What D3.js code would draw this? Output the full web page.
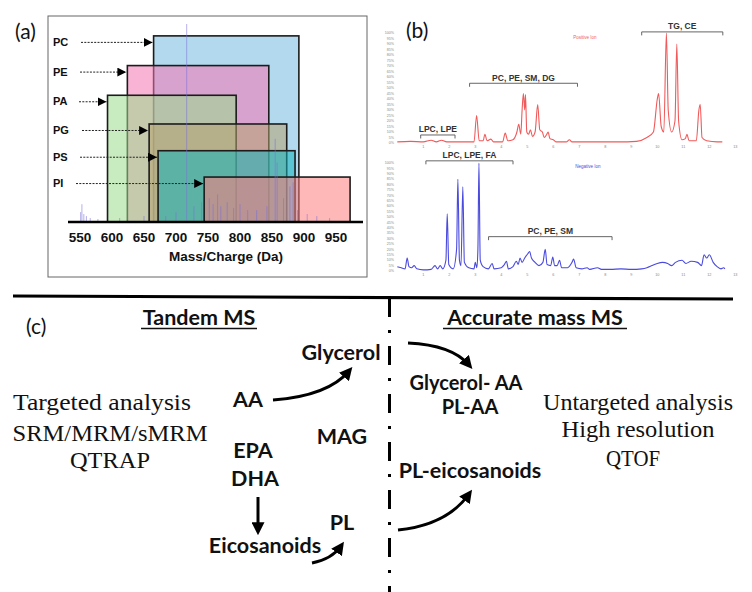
<!DOCTYPE html>
<html><head><meta charset="utf-8">
<script src="https://cdn.jsdelivr.net/npm/d3@7"></script>
<style>body{margin:0;background:#fff}svg{display:block}</style>
</head><body>
<svg id="fig" width="752" height="592"></svg>
<script>
// ---------- Panel (a) data ----------
const lipidClasses = ["PC","PE","PA","PG","PS","PI"];
const classMzStart = [665,624,593,658,672,744];
const classMzEnd   = [892,845,794,873,886,972];
const classLevel   = [94,79,64,49.5,36,22.7];
const classColors  = ["#75bae2","#f475b3","#9bdc8c","#b6a270","#14b4be","#ff7e7e"];
const massTicks = [550,600,650,700,750,800,850,900,950];
const spectrumMz  = [551,553,556,560,566,578,612,650,684,700,716.7,728,740,752,758,765,770,780,790,800,812,826,842,855,858,868,878,883,890,905,920,940];
const spectrumInt = [5,9,4,3,2,1.5,2,3,3,5,100,8,10,12,9,14,8,10,7,9,6,6,8,42,30,12,18,20,6,4,3,2];

// ---------- Panel (b) data ----------
const timeTicks = [1,2,3,4,5,6,7,8,9,10,11,12,13];
const pctTicks = [0,5,10,15,20,25,30,35,40,45,50,55,60,65,70,75,80,85,90,95,100];
const positiveTime = [0,0.5,1,1.3,1.5,1.7,1.9,2.5,2.95,3.05,3.15,3.3,3.37,3.45,3.6,3.7,4.05,4.15,4.25,4.45,4.6,4.67,4.75,4.8,4.85,4.9,4.93,4.98,5.05,5.12,5.2,5.3,5.4,5.48,5.58,5.65,5.75,5.8,5.87,6.0,6.1,6.5,6.62,6.72,7.5,8.5,9.2,9.6,9.85,10.0,10.05,10.15,10.25,10.35,10.42,10.55,10.68,10.75,10.82,10.95,11.08,11.14,11.22,11.5,11.6,11.65,11.72,11.9,12.3,12.5];
const positiveInt  = [1,1.5,1,2.5,1,2.5,1,1,1,25,2,2,8,2,3.5,1,1,9,2,3,10,17,8,30,45,30,44,10,8,12,6,10,35,12,10,5,8,10,4,3,1,1,3,1,1,1,1.5,5,10,40,45,15,10,100,30,10,20,90,20,3,4,8,2,2,30,35,5,2,1,1];
const negativeTime = [0,0.15,0.3,0.38,0.45,0.55,0.65,0.75,1.0,1.3,1.45,1.55,1.65,1.75,1.87,1.92,1.98,2.15,2.28,2.33,2.39,2.45,2.52,2.58,2.75,2.95,3.0,3.06,3.1,3.14,3.19,3.3,3.5,3.65,3.72,4.0,4.12,4.2,4.27,4.45,4.58,4.65,4.72,4.8,4.9,5.02,5.09,5.16,5.3,5.45,5.6,5.69,5.76,5.9,5.98,6.05,6.15,6.24,6.32,6.55,6.72,6.78,6.88,7.1,7.3,7.4,7.7,7.85,8.2,8.6,9.0,9.4,9.6,9.8,10.0,10.2,10.4,10.55,10.7,10.95,11.1,11.3,11.55,11.7,11.8,11.9,12.0,12.15,12.3,12.45,12.55,12.6];
const negativeInt  = [4,3,2,12,4,3,5,2,1,1.5,5,2,5,2,10,53,6,2,20,85,10,5,78,8,3,2,8,3,20,100,10,4,2,7,2,3,6,9,2,4,9,6,12,8,12,16,18,12,8,5,8,20,6,5,13,5,5,10,3,3,8,11,3,2,3,1.5,3,1.5,1.5,2,1.5,2,3,5,7,8,7,5,8,10,7,9,8,5,15,12,15,8,4,2,3,2];
const posBrackets = [["TG, CE",9.4,12.52,101],["PC, PE, SM, DG",2.78,6.93,54.3],["LPC, LPE",0.9,2.22,7.3]];
const negBrackets = [["LPC, LPE, FA",1.1,4.45,102],["PC, PE, SM",3.51,8.26,31.8]];

const svg = d3.select("#fig");
svg.append("rect").attr("width",752).attr("height",592).attr("fill","#fff");

// ================= Panel (a) =================
const xA = d3.scaleLinear().domain([550,950]).range([80,336]);
const yA = d3.scaleLinear().domain([0,100]).range([222,24]);
const gA = svg.append("g");
gA.append("rect").attr("x",48).attr("y",16).attr("width",319).attr("height",261)
  .attr("fill","none").attr("stroke","#666").attr("stroke-width",1);

lipidClasses.forEach((c,i)=>{
  gA.append("rect")
    .attr("x",xA(classMzStart[i])).attr("y",yA(classLevel[i]))
    .attr("width",xA(classMzEnd[i])-xA(classMzStart[i]))
    .attr("height",yA(0)-yA(classLevel[i]))
    .attr("fill",classColors[i]).attr("fill-opacity",0.55)
    .attr("stroke","#1c1c1c").attr("stroke-width",1.6);
});
spectrumMz.forEach((m,i)=>{
  gA.append("line").attr("x1",xA(m)).attr("x2",xA(m))
    .attr("y1",yA(0)).attr("y2",yA(spectrumInt[i]))
    .attr("stroke","#7a70d8").attr("stroke-opacity",0.55).attr("stroke-width",1);
});
gA.append("line").attr("x1",68).attr("x2",363).attr("y1",yA(0)).attr("y2",yA(0))
  .attr("stroke","#000").attr("stroke-width",2.5);

const defs = svg.append("defs");
defs.append("marker").attr("id","tri").attr("viewBox","0 0 10 10").attr("refX",10).attr("refY",5)
  .attr("markerWidth",9).attr("markerHeight",9).attr("markerUnits","userSpaceOnUse").attr("orient","auto")
  .append("path").attr("d","M0,0L10,5L0,10Z").attr("fill","#000");
defs.append("marker").attr("id","head").attr("viewBox","0 0 10 10").attr("refX",6).attr("refY",5)
  .attr("markerWidth",13).attr("markerHeight",13).attr("markerUnits","userSpaceOnUse").attr("orient","auto")
  .append("path").attr("d","M0,0L10,5L0,10Z").attr("fill","#000");

const arrowStart = [81,80,79,82,80,76];
lipidClasses.forEach((c,i)=>{
  const top = yA(classLevel[i]);
  gA.append("text").attr("x",53).attr("y",top+10).text(c)
    .attr("font-family","Liberation Sans, Arial, sans-serif").attr("font-weight","bold")
    .attr("font-size",11).attr("fill","#111");
  gA.append("line").attr("x1",arrowStart[i]).attr("x2",xA(classMzStart[i])-1)
    .attr("y1",top+6.5).attr("y2",top+6.5)
    .attr("stroke","#222").attr("stroke-width",1).attr("stroke-dasharray","2,1.3")
    .attr("marker-end","url(#tri)");
});
gA.selectAll(".mt").data(massTicks).enter().append("text")
  .attr("x",d=>xA(d)).attr("y",242).attr("text-anchor","middle").text(d=>d)
  .attr("font-family","Liberation Sans, Arial, sans-serif").attr("font-weight","bold")
  .attr("font-size",13.5).attr("fill","#111");
gA.append("text").attr("x",226).attr("y",261).attr("text-anchor","middle").text("Mass/Charge (Da)")
  .attr("font-family","Liberation Sans, Arial, sans-serif").attr("font-weight","bold")
  .attr("font-size",13.5).attr("fill","#111");
svg.append("text").attr("x",15).attr("y",39).text("(a)")
  .attr("font-family","Lato, sans-serif").attr("font-size",21).attr("fill","#111");

// ================= Panel (b) =================
const xB = d3.scaleLinear().domain([0,13]).range([397.3,735.3]);
const yPos = d3.scaleLinear().domain([0,100]).range([143,33]);
const yNeg = d3.scaleLinear().domain([0,100]).range([271,163]);
const gB = svg.append("g");
svg.append("text").attr("x",406).attr("y",38).text("(b)")
  .attr("font-family","Lato, sans-serif").attr("font-size",21).attr("fill","#111");

function chromPanel(times, ints, ys, color, brackets, title, titleX){
  gB.selectAll(null).data(pctTicks).enter().append("text")
    .attr("x",394).attr("y",d=>ys(d)+1.2).attr("text-anchor","end").text(d=>d+"%")
    .attr("font-family","Liberation Sans, Arial, sans-serif").attr("font-size",3.6).attr("fill","#888");
  gB.selectAll(null).data(timeTicks).enter().append("text")
    .attr("x",d=>xB(d)).attr("y",ys(0)+5).attr("text-anchor","middle").text(d=>d)
    .attr("font-family","Liberation Sans, Arial, sans-serif").attr("font-size",3.8).attr("fill","#888");
  const pts = times.map((t,i)=>[t,ints[i]]);
  const line = d3.line().x(d=>xB(d[0])).y(d=>ys(d[1])).curve(d3.curveMonotoneX);
  gB.append("path").attr("d",line(pts)).attr("fill","none").attr("stroke",color)
    .attr("stroke-width",1.1).attr("stroke-linejoin","round");
  brackets.forEach(b=>{
    const x1=xB(b[1]), x2=xB(b[2]), y=ys(b[3]);
    gB.append("path").attr("d",`M${x1},${y+3.5}V${y}H${x2}V${y+3.5}`)
      .attr("fill","none").attr("stroke","#555").attr("stroke-width",0.9);
    gB.append("text").attr("x",(x1+x2)/2).attr("y",y-2.5).attr("text-anchor","middle").text(b[0])
      .attr("font-family","Liberation Sans, Arial, sans-serif").attr("font-weight","bold")
      .attr("font-size",8.5).attr("fill","#333");
  });
  gB.append("text").attr("x",titleX).attr("y",ys(95)).attr("text-anchor","middle").text(title)
    .attr("font-family","Liberation Sans, Arial, sans-serif").attr("font-size",4.5).attr("fill",color);
}
chromPanel(positiveTime, positiveInt, yPos, "#f05a5a", posBrackets, "Positive Ion", 585);
chromPanel(negativeTime, negativeInt, yNeg, "#4a4ade", negBrackets, "Negative Ion", 588);

// ================= Panel (c) =================
const gC = svg.append("g");
gC.append("line").attr("x1",13).attr("y1",296).attr("x2",733).attr("y2",299)
  .attr("stroke","#000").attr("stroke-width",3.2);
gC.append("line").attr("x1",389.5).attr("y1",298).attr("x2",389.5).attr("y2",592)
  .attr("stroke","#000").attr("stroke-width",3).attr("stroke-dasharray","19,13,3,13");

const bold = (s,size)=>s.attr("font-family","Lato, sans-serif").attr("font-weight","bold").attr("font-size",size).attr("fill","#111");
const serif = s=>s.attr("font-family","Liberation Serif, serif").attr("font-size",23).attr("fill","#111");

gC.append("text").attr("x",26).attr("y",334).text("(c)")
  .attr("font-family","Lato, sans-serif").attr("font-size",21).attr("fill","#111");

const boldLabels = [
  ["Tandem MS",199,325,21.5],["Glycerol",341,360,21.5],["AA",248,407,21.5],["MAG",342,444,21.5],
  ["EPA",253,458,21.5],["DHA",255,486,21.5],["PL",342,530,21.5],["Eicosanoids",265,553,21.5],
  ["Accurate mass MS",535,325,21.5],["Glycerol- AA",466,389.5,20],["PL-AA",470,414,20],["PL-eicosanoids",470,478,21.5]
];
boldLabels.forEach(l=>{
  gC.append("text").attr("x",l[1]).attr("y",l[2]).attr("text-anchor","middle").text(l[0]).call(bold,l[3]);
});
[[141,257],[443,627]].forEach(u=>{
  gC.append("line").attr("x1",u[0]).attr("x2",u[1]).attr("y1",328.5).attr("y2",328.5)
    .attr("stroke","#111").attr("stroke-width",1.6);
});
const serifLabels = [
  ["Targeted analysis",102,410,178],["SRM/MRM/sMRM",110,441,195],["QTRAP",110,468,80],
  ["Untargeted analysis",638,410,190],["High resolution",638,437,153],["QTOF",633,466,54]
];
serifLabels.forEach(l=>{
  gC.append("text").attr("x",l[1]).attr("y",l[2]).attr("text-anchor","middle").text(l[0])
    .attr("textLength",l[3]).attr("lengthAdjust","spacingAndGlyphs").call(serif);
});
const arrows = [
  "M273,400 Q328,396 349,371",
  "M258,497 L258,530",
  "M312,563 Q332,559 341,546",
  "M408,343 Q452,345 469,365",
  "M398,530 Q447,525 469,494"
];
arrows.forEach(d=>{
  gC.append("path").attr("d",d).attr("fill","none").attr("stroke","#000")
    .attr("stroke-width",3).attr("marker-end","url(#head)");
});
</script>
</body></html>
